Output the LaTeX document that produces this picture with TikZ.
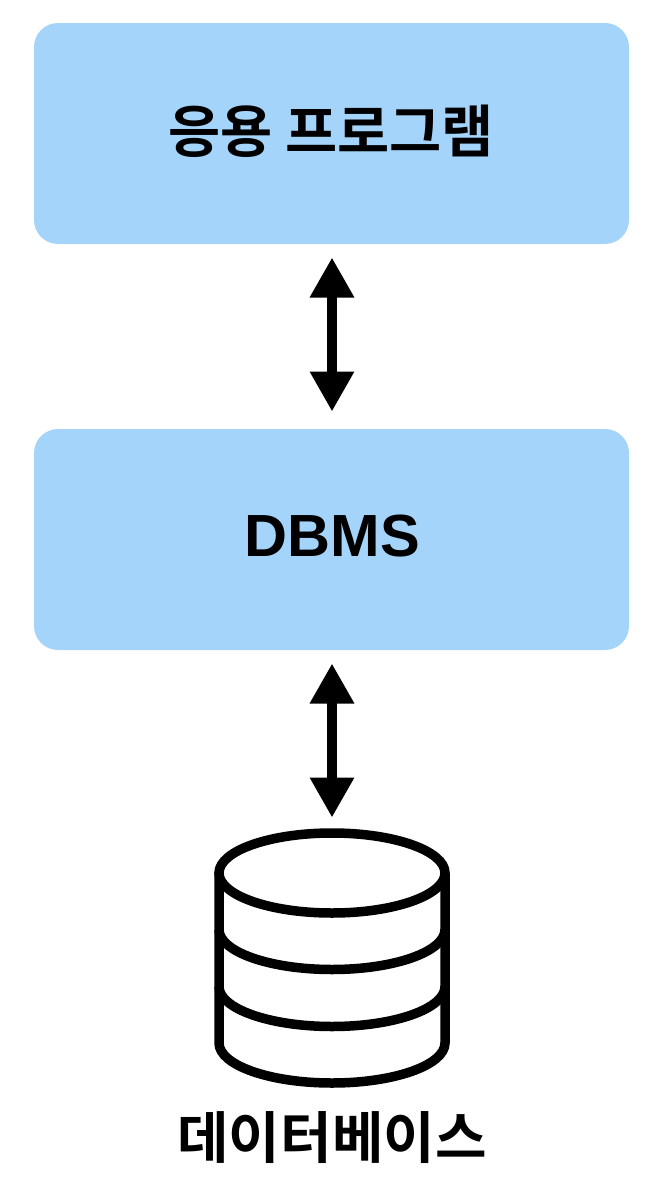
\documentclass[tikz,border=0pt]{standalone}
\usepackage{fontspec}
\setmainfont{Liberation Sans}
\newfontfamily\cjk{Noto Sans CJK KR}[BoldFont={* Bold}]
\usetikzlibrary{arrows.meta}
\definecolor{boxblue}{HTML}{A4D4FA}
\tikzset{
 box/.style={fill=boxblue,draw=none,rounded corners=24pt,minimum width=595pt,minimum height=221pt,inner sep=0pt},
 lab/.style={font=\fontsize{56.7pt}{60pt}\selectfont\bfseries,text=black,inner sep=0pt},
 dblab/.style={font=\fontsize{56pt}{60pt}\selectfont\bfseries,text=black,inner sep=0pt},
 dbmsfont/.style={font=\fontsize{59.5pt}{64pt}\selectfont\bfseries,text=black,inner sep=0pt},
 dbl/.style={line width=9.5pt,draw=black,{Triangle[length=40pt,width=42pt]}-{Triangle[length=40pt,width=42pt]}},
 cyl/.style={line width=9.5pt,draw=black,fill=none}
}
\begin{document}
\begin{tikzpicture}[x=1pt,y=-1pt]
\useasboundingbox (0,0) rectangle (660,1192);
\node[box] (app) at (331.5,133.5) {};
\node[box] (dbms) at (331.5,539.5) {};
\node[lab] (applab) at (331,131.5) {\cjk 응용 프로그램};
\node[dbmsfont] (dbmslab) at (332.5,536.5) {DBMS};
\coordinate (a1) at (332,257.5);
\coordinate (a2) at (332,411.5);
\coordinate (b1) at (332,663.5);
\coordinate (b2) at (332,817.5);
\draw[dbl] (a1) -- (a2);
\draw[dbl] (b1) -- (b2);
\draw[cyl] (332,873) ellipse[x radius=113,y radius=40];
\draw[cyl] (219,873) -- (219,1043) arc[start angle=180,end angle=0,x radius=113,y radius=40] -- (445,873);
\draw[cyl] (219,929.5) arc[start angle=180,end angle=0,x radius=113,y radius=40];
\draw[cyl] (219,986.5) arc[start angle=180,end angle=0,x radius=113,y radius=40];
\node[dblab] (dbl1) at (332,1138) {\cjk 데이터베이스};
\end{tikzpicture}
\end{document}
